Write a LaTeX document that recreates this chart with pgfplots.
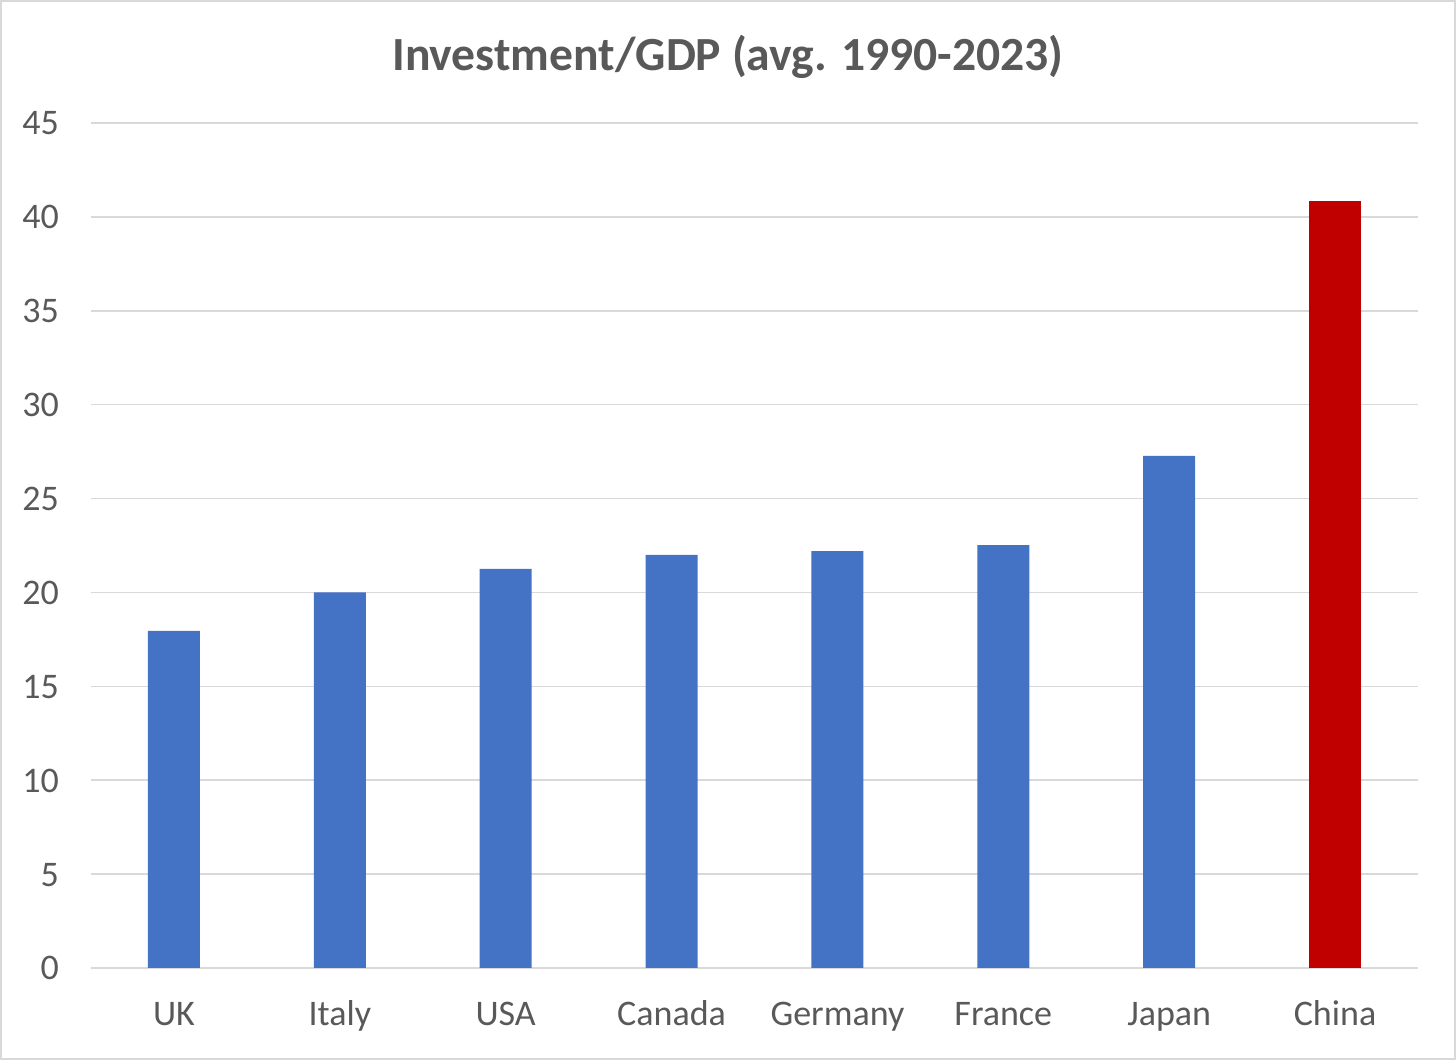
\documentclass[border=0pt]{standalone}
\usepackage{pgfplots}
\pgfplotsset{compat=1.18}
\usepackage{fontspec}
\setmainfont{Carlito}
\definecolor{txtgray}{HTML}{595959}
\definecolor{gridgray}{HTML}{D9D9D9}
\definecolor{barblue}{HTML}{4472C4}
\definecolor{barred}{HTML}{C00000}
\begin{document}
\begin{tikzpicture}
\useasboundingbox (0,0) rectangle (728pt,530pt);
\draw[gridgray, line width=0.8pt] (0.4pt,0.4pt) rectangle (727.6pt,529.6pt);
\node[font=\fontsize{23.8}{28}\selectfont\bfseries, text=txtgray] at (364pt,501.5pt) {Investment/GDP (avg. 1990-2023)};
\begin{axis}[
  at={(45.5pt,46pt)}, anchor=south west,
  scale only axis, width=663.5pt, height=422.5pt,
  xmin=-0.5, xmax=7.5, ymin=0, ymax=45,
  ytick={0,5,...,45},
  xtick={0,...,7},
  xticklabels={UK,Italy,USA,Canada,Germany,France,Japan,China},
  axis x line*=bottom, axis y line*=left,
  x axis line style={gridgray, line width=0.8pt, -},
  y axis line style={draw=none},
  ymajorgrids, grid style={gridgray, line width=0.8pt},
  major tick length=0pt,
  tick label style={font=\fontsize{18}{21}\selectfont, text=txtgray},
  /pgf/number format/assume math mode=true,
  xticklabel style={anchor=base, yshift=-29pt},
  yticklabel style={anchor=base east, xshift=-12.5pt, yshift=-6pt},
  ybar, bar width=26pt, bar shift=0pt,
  clip=false,
]
\addplot[fill=barblue, draw=none] coordinates {(0,17.95) (1,20.0) (2,21.25) (3,22.0) (4,22.2) (5,22.52) (6,27.27)};
\addplot[fill=barred, draw=none] coordinates {(7,40.85)};
\end{axis}
\end{tikzpicture}
\end{document}
